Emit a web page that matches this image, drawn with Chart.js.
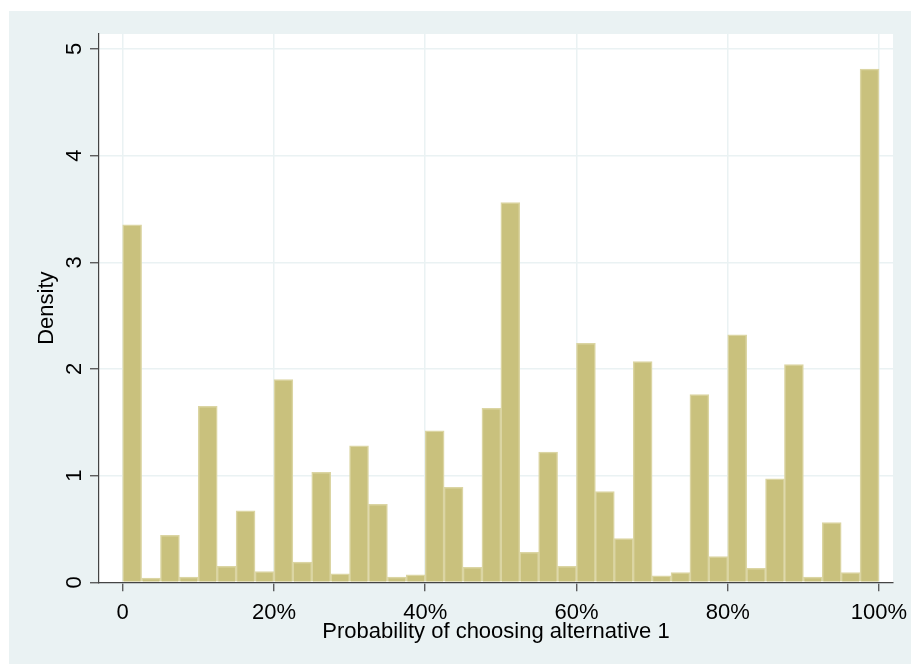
<!DOCTYPE html>
<html>
<head>
<meta charset="utf-8">
<script src="https://cdn.jsdelivr.net/npm/chart.js@4.4.0/dist/chart.umd.min.js"></script>
<style>
  body { margin: 0; background: #ffffff; }
  #frame { position: absolute; left: 9px; top: 11px; width: 902px; height: 653px; background: #eaf2f3; }
</style>
</head>
<body>
<div id="frame"><canvas id="hist" width="902" height="653"></canvas></div>
<script>
// bin starts (percent), each bin is 2.5 wide
const binStarts = [0, 2.5, 5, 7.5, 10, 12.5, 15, 17.5, 20, 22.5,
                   25, 27.5, 30, 32.5, 35, 37.5, 40, 42.5, 45, 47.5,
                   50, 52.5, 55, 57.5, 60, 62.5, 65, 67.5, 70, 72.5,
                   75, 77.5, 80, 82.5, 85, 87.5, 90, 92.5, 95, 97.5];
const binWidth = 2.5;
const density = [3.35, 0.04, 0.44, 0.05, 1.65, 0.15, 0.67, 0.10, 1.90, 0.19,
                 1.03, 0.08, 1.28, 0.73, 0.05, 0.07, 1.42, 0.89, 0.14, 1.63,
                 3.56, 0.28, 1.22, 0.15, 2.24, 0.85, 0.41, 2.07, 0.06, 0.09,
                 1.76, 0.24, 2.32, 0.13, 0.97, 2.04, 0.05, 0.56, 0.09, 4.81];
const xTicks = [0, 20, 40, 60, 80, 100];
const yTicks = [0, 1, 2, 3, 4, 5];

const font = { family: "'Liberation Sans', Arial, sans-serif", size: 22 };

// white plot region like Stata
const plotBg = {
    id: 'plotBg',
    beforeDraw(chart) {
        const {ctx, chartArea: a} = chart;
        ctx.save();
        ctx.fillStyle = '#ffffff';
        ctx.fillRect(a.left, a.top, a.right - a.left, a.bottom - a.top);
        ctx.restore();
    }
};

new Chart(document.getElementById('hist'), {
    type: 'bar',
    data: {
        datasets: [{
            label: 'Density',
            data: binStarts.map((s, i) => ({x: s + binWidth / 2, y: density[i]})),
            backgroundColor: '#c9c17d',
            borderColor: '#dbd5a3',
            borderWidth: 1.5,
            barPercentage: 1,
            categoryPercentage: 1
        }]
    },
    options: {
        responsive: false,
        animation: false,
        layout: { padding: { top: 23, right: 18, left: 0, bottom: 0 } },
        plugins: { legend: { display: false }, tooltip: { enabled: false } },
        scales: {
            x: {
                type: 'linear',
                min: -3.13,
                max: 101.85,
                offset: false,
                afterBuildTicks: s => { s.ticks = xTicks.map(v => ({value: v})); },
                afterFit: s => { s.height = 81.7; s.paddingLeft = 0; s.paddingRight = 0; },
                grid: { offset: false, color: '#eaf2f3', lineWidth: 1.5, tickColor: '#444', tickLength: 9, tickWidth: 1.2 },
                border: { color: '#444', width: 1.2 },
                ticks: {
                    font: font, color: '#000', padding: 8, maxRotation: 0,
                    callback: v => v === 0 ? '0' : v + '%'
                },
                title: { display: true, text: 'Probability of choosing alternative 1', font: font, color: '#000', padding: { top: 0, bottom: 19 } }
            },
            y: {
                min: 0,
                max: 5.14,
                afterBuildTicks: s => { s.ticks = yTicks.map(v => ({value: v})); },
                afterFit: s => { s.width = 90; s.paddingTop = 0; s.paddingBottom = 0; },
                grid: { color: '#eaf2f3', lineWidth: 1.5, tickColor: '#444', tickLength: 9, tickWidth: 1.2 },
                border: { color: '#444', width: 1.2 },
                ticks: { font: font, color: '#000', padding: 9, minRotation: 90, maxRotation: 90, crossAlign: 'center' },
                title: { display: true, text: 'Density', font: font, color: '#000', padding: { top: 25, bottom: 0 } }
            }
        }
    },
    plugins: [plotBg]
});
</script>
</body>
</html>
